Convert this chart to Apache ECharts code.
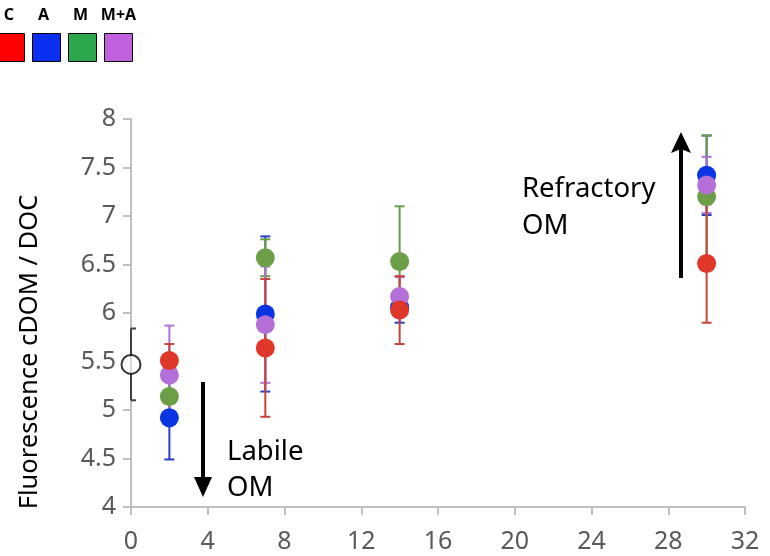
<!DOCTYPE html>
<html>
<head>
<meta charset="utf-8">
<script src="https://cdn.jsdelivr.net/npm/echarts@6/dist/echarts.min.js"></script>
<style>html,body{margin:0;padding:0;background:#fff}#c{width:770px;height:556px}</style>
</head>
<body>
<div id="c"></div>
<script>
// ---- data ----
const days = [2, 7, 14, 30];
const cMean  = [5.51, 5.64, 6.03, 6.51];
const cErr   = [0.17, 0.71, 0.35, 0.61];
const aMean  = [4.92, 5.99, 6.06, 7.42];
const aErr   = [0.43, 0.80, 0.16, 0.41];
const mMean  = [5.14, 6.57, 6.53, 7.20];
const mErr   = [0.15, 0.19, 0.57, 0.63];
const maMean = [5.36, 5.88, 6.17, 7.32];
const maErr  = [0.51, 0.60, 0.20, 0.29];
const initDay = [0];
const initMean = [5.47];
const initErr = [0.37];
const xTicks = [0, 4, 8, 12, 16, 20, 24, 28, 32];
const yTicks = [4, 4.5, 5, 5.5, 6, 6.5, 7, 7.5, 8];
const legendNames = ['C', 'A', 'M', 'M+A'];
const legendColors = ['#ff0000', '#0b2ff0', '#2aa84a', '#c060dc'];
const yTitle = 'Fluorescence cDOM / DOC';

const FONT = '"Noto Sans", "Open Sans", sans-serif';

function rows(xs, ms, es) { return xs.map((x, i) => [x, ms[i], es[i]]); }

function errSeries(name, xs, ms, es, color, halfCap) {
  return {
    type: 'custom', name: name + ' err', z: 2, clip: false,
    data: rows(xs, ms, es),
    renderItem: function (params, api) {
      const x = api.value(0), y = api.value(1), e = api.value(2);
      const t = api.coord([x, y + e]);
      const b = api.coord([x, y - e]);
      const hw = 5;
      const l = halfCap ? 0 : hw;
      const st = { stroke: color, lineWidth: 2 };
      return {
        type: 'group',
        children: [
          { type: 'line', shape: { x1: t[0], y1: t[1], x2: b[0], y2: b[1] }, style: st },
          { type: 'line', shape: { x1: t[0] - l, y1: t[1], x2: t[0] + hw, y2: t[1] }, style: st },
          { type: 'line', shape: { x1: b[0] - l, y1: b[1], x2: b[0] + hw, y2: b[1] }, style: st }
        ]
      };
    }
  };
}

function ptSeries(name, xs, ms, color, extra) {
  return Object.assign({
    type: 'scatter', name: name, z: 3, symbol: 'circle', symbolSize: 19,
    data: xs.map((x, i) => [x, ms[i]]),
    itemStyle: { color: color, opacity: 1 },
    emphasis: { disabled: true }
  }, extra || {});
}

const chart = echarts.init(document.getElementById('c'), null, { renderer: 'canvas' });

const graphics = [];
// legend built from arrays
const sqX = [-4, 32, 68, 104];
const lblX = [9, 43.5, 80.5, 118.5];
legendNames.forEach((n, i) => {
  graphics.push({ type: 'rect', shape: { x: sqX[i] + 0.5, y: 33.5, width: 28, height: 28 },
    style: { fill: legendColors[i], stroke: '#000', lineWidth: 1 } });
  graphics.push({ type: 'text', x: lblX[i], y: 15, style: { text: n, fill: '#000',
    font: 'bold 16px ' + FONT, textAlign: 'center', textVerticalAlign: 'middle' } });
});
// y-axis title
graphics.push({ type: 'text', x: 30, y: 352, rotation: Math.PI / 2,
  style: { text: yTitle, fill: '#000', font: '25.5px ' + FONT, textAlign: 'center', textVerticalAlign: 'middle' } });
// annotations
const annFont = '27.5px ' + FONT;
graphics.push({ type: 'text', x: 227, y: 452, style: { text: 'Labile', fill: '#000', font: annFont, textVerticalAlign: 'middle' } });
graphics.push({ type: 'text', x: 227, y: 488, style: { text: 'OM', fill: '#000', font: annFont, textVerticalAlign: 'middle' } });
graphics.push({ type: 'text', x: 522, y: 189, style: { text: 'Refractory', fill: '#000', font: annFont, textVerticalAlign: 'middle' } });
graphics.push({ type: 'text', x: 522, y: 226, style: { text: 'OM', fill: '#000', font: annFont, textVerticalAlign: 'middle' } });
// arrows
graphics.push({ type: 'line', shape: { x1: 203, y1: 382, x2: 203, y2: 482 }, style: { stroke: '#000', lineWidth: 4 } });
graphics.push({ type: 'polygon', shape: { points: [[194, 477], [212, 477], [203, 497]] }, style: { fill: '#000' } });
graphics.push({ type: 'line', shape: { x1: 681, y1: 278, x2: 681, y2: 148 }, style: { stroke: '#000', lineWidth: 4 } });
graphics.push({ type: 'polygon', shape: { points: [[671, 153], [681, 149], [691, 153], [681, 132]] }, style: { fill: '#000' } });

chart.setOption({
  animation: false,
  grid: { left: 131, right: 25, top: 119, bottom: 49, containLabel: false },
  xAxis: {
    type: 'value', min: 0, max: 32, interval: 4,
    axisLine: { show: true, onZero: false, lineStyle: { color: '#bfbfbf', width: 2 } },
    axisTick: { show: true, length: 8, lineStyle: { color: '#bfbfbf', width: 2 } },
    axisLabel: { color: '#595959', fontSize: 25, fontFamily: FONT, margin: 22,
      formatter: v => xTicks.includes(v) ? String(v) : '' },
    splitLine: { show: false }
  },
  yAxis: {
    type: 'value', min: 4, max: 8, interval: 0.5,
    axisLine: { show: true, onZero: false, lineStyle: { color: '#bfbfbf', width: 2 } },
    axisTick: { show: true, length: 8, lineStyle: { color: '#bfbfbf', width: 2 } },
    axisLabel: { color: '#595959', fontSize: 25, fontFamily: FONT, margin: 15,
      formatter: v => yTicks.includes(v) ? String(v) : '' },
    splitLine: { show: false }
  },
  series: [
    errSeries('Init', initDay, initMean, initErr, '#404040', true),
    errSeries('A', days, aMean, aErr, '#2540c8', false),
    errSeries('M', days, mMean, mErr, '#6a9e46', false),
    errSeries('M+A', days, maMean, maErr, '#b070d8', false),
    errSeries('C', days, cMean, cErr, '#c8443a', false),
    ptSeries('Init', initDay, initMean, '#ffffff', { itemStyle: { color: '#fff', borderColor: '#000', borderWidth: 2 }, clip: false }),
    ptSeries('A', days, aMean, '#0b35e2'),
    ptSeries('M', days, mMean, '#6b9e47'),
    ptSeries('M+A', days, maMean, '#b46fd9'),
    ptSeries('C', days, cMean, '#e0372b')
  ],
  graphic: graphics
});
</script>
</body>
</html>
